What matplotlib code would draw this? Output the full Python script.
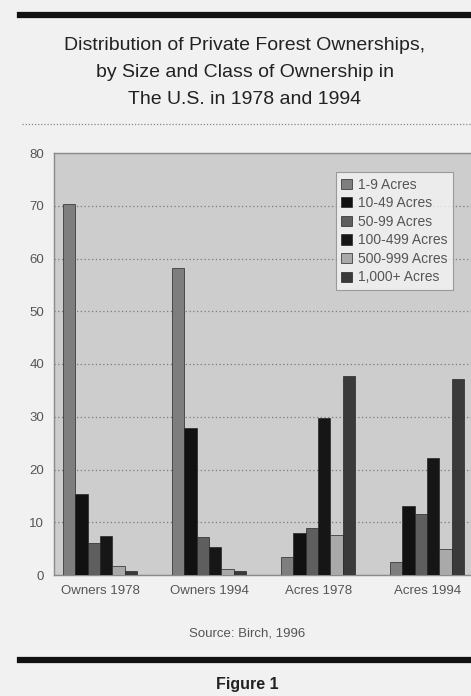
import matplotlib.pyplot as plt
import numpy as np

# data (percent)
groups = ["Owners 1978", "Owners 1994", "Acres 1978", "Acres 1994"]
sizes = ["1-9 Acres", "10-49 Acres", "50-99 Acres", "100-499 Acres",
         "500-999 Acres", "1,000+ Acres"]
acres_1_9 = [70.4, 58.2, 3.5, 2.4]
acres_10_49 = [15.3, 27.8, 8.0, 13.0]
acres_50_99 = [6.0, 7.2, 8.9, 11.6]
acres_100_499 = [7.3, 5.4, 29.7, 22.1]
acres_500_999 = [1.7, 1.1, 7.6, 4.9]
acres_1000 = [0.8, 0.7, 37.8, 37.1]
series = [acres_1_9, acres_10_49, acres_50_99, acres_100_499,
          acres_500_999, acres_1000]
colors = ["#7e7e7e", "#111111", "#5e5e5e", "#161616", "#a9a9a9", "#3a3a3a"]

page_bg = "#f1f1f1"
font = ["Liberation Sans", "DejaVu Sans"]
plt.rcParams["font.family"] = font

fig = plt.figure(figsize=(4.71, 6.96), dpi=100)
fig.patch.set_facecolor(page_bg)

W, H = 471.0, 696.0
ax = fig.add_axes([54 / W, 1 - 575 / H, 420 / W, 422 / H])
ax.set_facecolor("#cdcdcd")

x = np.arange(len(groups))
w = 0.113
for k, (vals, c, lab) in enumerate(zip(series, colors, sizes)):
    ax.bar(x + (k - 2.5) * w, vals, width=w, color=c, edgecolor="#262626",
           linewidth=0.5, label=lab, zorder=3)

ax.set_xlim(-0.422, 3.43)
ax.set_ylim(0, 80)
ax.set_yticks(range(0, 81, 10))
ax.set_xticks(x)
ax.set_xticklabels(groups)
ax.tick_params(length=0, labelsize=9.5, colors="#555555", pad=7)
ax.yaxis.grid(True, linestyle=(0, (1, 2)), color="#7a7a7a", linewidth=0.9, zorder=1)
for s in ["left", "bottom", "top"]:
    ax.spines[s].set_color("#8a8a8a")
    ax.spines[s].set_linewidth(1.0)
ax.spines["right"].set_visible(False)

leg = ax.legend(loc="upper right", bbox_to_anchor=(399 / 420, 403 / 422),
                borderaxespad=0, frameon=True, fancybox=False,
                handlelength=0.75, handleheight=0.75, handletextpad=0.45,
                labelspacing=0.33, borderpad=0.4, prop={"size": 10})
leg.get_frame().set_facecolor("#f4f4f4")
leg.get_frame().set_edgecolor("#8a8a8a")
leg.get_frame().set_linewidth(0.8)
for t in leg.get_texts():
    t.set_color("#555555")

# title and decorations
fig.add_artist(plt.Line2D([20 / W, 1], [1 - 14.5 / H] * 2, color="#111111",
                          linewidth=4.5))
title = ["Distribution of Private Forest Ownerships,",
         "by Size and Class of Ownership in",
         "The U.S. in 1978 and 1994"]
for i, line in enumerate(title):
    fig.text(245 / W, 1 - (45 + 27.5 * i) / H, line, ha="center", va="center",
             fontsize=14, color="#222222")
fig.add_artist(plt.Line2D([22 / W, 1], [1 - 124 / H] * 2, color="#888888",
                          linewidth=0.9, linestyle=(0, (1, 1.5))))
fig.text(247 / W, 1 - 634 / H, "Source: Birch, 1996", ha="center", va="center",
         fontsize=9.5, color="#555555")
fig.add_artist(plt.Line2D([20 / W, 1], [1 - 660 / H] * 2, color="#111111",
                          linewidth=4.5))
fig.text(247 / W, 1 - 684 / H, "Figure 1", ha="center", va="center",
         fontsize=11.5, color="#222222", weight="bold")

fig.savefig("out.png", dpi=100, facecolor=page_bg)
